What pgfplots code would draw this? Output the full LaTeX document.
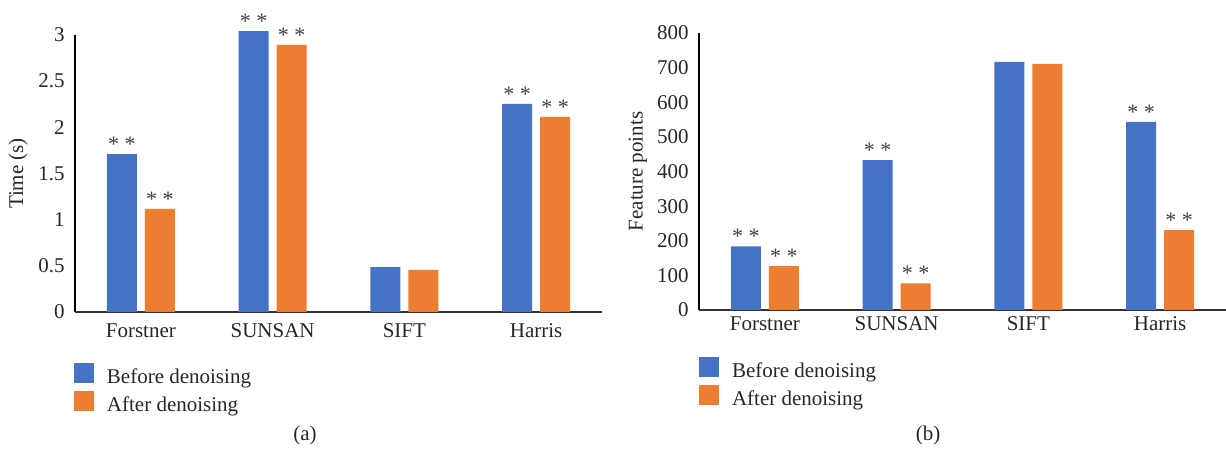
\documentclass[border=0pt]{standalone}
\usepackage{fontspec}
\setmainfont{Liberation Serif}
\usepackage{pgfplots}
\pgfplotsset{compat=1.18}
\definecolor{cblue}{HTML}{4472C4}
\definecolor{corange}{HTML}{ED7D31}
\definecolor{cstar}{HTML}{404040}
\newcommand{\chartfont}{\fontsize{10.5}{12.6}\selectfont}
\pgfplotsset{
  mylegend/.style={legend image code/.code={\fill[##1] (0pt,-2.5pt) rectangle (10pt,7.5pt); \path[draw=none,fill=none] (0pt,-4.5pt) rectangle (10pt,9.5pt);}},
  mybars/.style={
    scale only axis, width=263.5pt, height=138.5pt,
    xmin=-0.5, xmax=3.5, ymin=0, clip=false,
    xtick={0,1,2,3}, xticklabels={Forstner,SUNSAN,SIFT,Harris},
    axis x line*=bottom, axis y line*=left,
    axis line style={-},
    x axis line style={line width=1.2pt, black!80},
    y axis line style={line width=0.6pt, black},
    major tick length=0pt,
    tick label style={font=\chartfont, text=black!85},
    /pgf/number format/assume math mode=true,
    yticklabel style={inner sep=0pt, anchor=east, xshift=-5pt},
    xticklabel style={inner sep=0pt, anchor=base},
    label style={font=\chartfont, text=black!85},
    bar width=15pt,
    legend style={draw=none, fill=none, inner sep=0pt, outer sep=0pt, anchor=north west,
      font=\chartfont, text=black!85, row sep=0pt,
      /tikz/every odd column/.append style={column sep=6.5pt}, nodes={inner sep=0pt}},
    legend cell align=left,
  },
  blueb/.style={ybar, bar shift=-9.5pt, fill=cblue, draw=none, mylegend},
  orangeb/.style={ybar, bar shift=9.5pt, fill=corange, draw=none, mylegend},
  stars/.style={ybar, bar shift=#1, draw=none, fill=none, forget plot,
    point meta=explicit symbolic, nodes near coords,
    every node near coord/.append style={font=\fontsize{11}{13}\selectfont, text=cstar, inner sep=0pt, anchor=south, yshift=1pt, xshift=#1}},
}
\begin{document}
\chartfont
\begin{tikzpicture}
\useasboundingbox (0,0) rectangle (613pt,224.5pt);
% (a) Time
\begin{axis}[mybars, at={(37.5pt,68.5pt)}, anchor=south west,
  ymax=3, ytick={0,0.5,1,1.5,2,2.5,3},
  yticklabels={0,0.5,1,1.5,2,2.5,3},
  ylabel={Time (s)}, ylabel style={at={(rel axis cs:-0.108,0.5)}, anchor=center},
  xticklabel style={yshift=-13pt},
  legend style={at={(rel axis cs:-0.002,-0.1697)}}]
\addplot[blueb] coordinates {(0,1.711) (1,3.043) (2,0.487) (3,2.253)};
\addlegendentry{Before denoising}
\addplot[orangeb] coordinates {(0,1.116) (1,2.892) (2,0.455) (3,2.112)};
\addlegendentry{After denoising}
\addplot[stars=-9.5pt] coordinates {(0,1.711) [* *] (1,3.043) [* *] (3,2.253) [* *]};
\addplot[stars=9.5pt] coordinates {(0,1.116) [* *] (1,2.892) [* *] (3,2.112) [* *]};
\end{axis}
% (b) Feature points
\begin{axis}[mybars, at={(349.5pt,69.5pt)}, anchor=south west,
  ymax=800, ytick={0,100,200,300,400,500,600,700,800},
  yticklabels={0,100,200,300,400,500,600,700,800},
  ylabel={Feature points}, ylabel style={at={(rel axis cs:-0.1157,0.5)}, anchor=center},
  xticklabel style={yshift=-10.5pt},
  legend style={at={(rel axis cs:0,-0.155)}}]
\addplot[blueb] coordinates {(0,184) (1,433) (2,717) (3,543)};
\addlegendentry{Before denoising}
\addplot[orangeb] coordinates {(0,126.5) (1,77) (2,711) (3,231)};
\addlegendentry{After denoising}
\addplot[stars=-9.5pt] coordinates {(0,184) [* *] (1,433) [* *] (3,543) [* *]};
\addplot[stars=9.5pt] coordinates {(0,126.5) [* *] (1,77) [* *] (3,231) [* *]};
\end{axis}
\node[font=\chartfont, text=black!85] at (152.5pt,7pt) {(a)};
\node[font=\chartfont, text=black!85] at (464pt,7pt) {(b)};
\end{tikzpicture}
\end{document}
